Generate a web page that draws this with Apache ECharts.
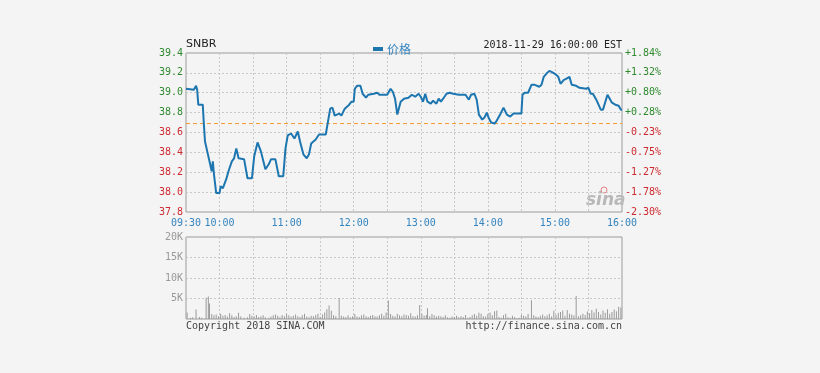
<!DOCTYPE html>
<html><head><meta charset="utf-8">
<script src="https://cdn.jsdelivr.net/npm/echarts@6/dist/echarts.min.js"></script>
<style>html,body{margin:0;padding:0;background:#f4f4f4}#c{width:820px;height:373px}</style>
</head><body><div id="c"></div>
<script>
// minutes after 09:30
var priceTimes = [0,7,9,10,11,15,16,17,19,21,23,24,25,27,30,31,33,36,38,41,43,45,47,52,55,59,61,64,67,71,74,76,80,83,87,89,91,94,97,100,102,105,108,110,112,116,119,125,127,129,131,133,137,139,142,146,148,150,151,153,156,158,161,163,168,171,173,180,183,185,187,189,192,195,196,199,202,205,208,210,212,214,216,219,221,224,226,228,230,233,236,239,244,250,253,255,258,260,262,265,267,269,271,273,276,278,281,284,287,290,293,300,301,303,306,309,312,316,318,320,323,325,327,330,333,335,338,340,343,345,349,352,358,360,362,364,367,369,371,373,377,378,381,384,387,389,390];
var prices = [39.04,39.03,39.07,39.03,38.88,38.88,38.68,38.51,38.41,38.31,38.21,38.31,38.18,37.99,37.99,38.06,38.04,38.13,38.21,38.31,38.34,38.44,38.34,38.33,38.14,38.14,38.36,38.50,38.41,38.23,38.28,38.33,38.33,38.16,38.16,38.44,38.57,38.59,38.54,38.61,38.51,38.38,38.34,38.38,38.49,38.53,38.58,38.58,38.71,38.84,38.85,38.77,38.79,38.77,38.84,38.88,38.91,38.91,39.04,39.07,39.07,38.99,38.95,38.98,38.99,39.00,38.98,38.98,39.04,39.01,38.94,38.78,38.91,38.94,38.92,38.95,38.98,38.96,38.99,38.96,38.91,38.99,38.91,38.89,38.92,38.89,38.94,38.91,38.94,38.99,39.00,38.99,38.98,38.98,38.93,38.98,38.99,38.93,38.78,38.73,38.75,38.80,38.74,38.70,38.69,38.72,38.78,38.85,38.78,38.76,38.79,38.79,38.98,39.00,39.00,39.08,39.08,39.06,39.08,39.16,39.20,39.22,39.21,39.19,39.16,39.09,39.13,39.14,39.16,39.08,39.07,39.05,39.04,39.05,38.99,38.99,38.93,38.88,38.83,38.83,38.98,38.96,38.90,38.88,38.87,38.83,38.83];
var prevClose = 38.69;
var sessionEnds = [0, 390];
var volTimes = [1,4,6,9,12,14,18,20,21,23,25,27,29,31,33,35,37,39,41,43,45,47,49,52,55,57,59,61,63,65,67,69,71,74,76,78,80,82,84,86,88,90,92,94,96,98,100,102,104,106,108,110,112,114,116,118,120,122,124,126,128,130,132,134,137,139,141,143,145,147,149,151,153,155,157,159,161,163,165,167,169,171,173,175,177,179,181,183,185,187,189,191,193,195,197,199,201,203,205,207,209,211,213,215,216,218,220,222,224,226,228,230,232,234,236,238,240,242,244,246,248,250,252,254,256,258,260,262,264,266,268,270,272,274,276,278,280,282,284,286,288,290,292,294,296,298,300,302,304,306,309,311,313,315,317,319,321,323,325,327,329,331,333,335,337,339,341,343,345,347,349,351,353,355,357,359,361,363,365,367,369,371,373,375,377,379,381,383,385,387,389];
var volumes = [1600,300,400,2300,500,300,5200,5500,3800,1200,900,1100,700,1300,800,1000,600,1400,900,500,700,1500,600,300,400,1200,800,600,1000,500,700,900,400,300,600,900,1100,800,500,1000,700,1200,900,600,800,1100,700,500,900,1300,600,400,800,700,1000,1300,500,1100,1600,2400,3300,2000,900,700,5100,800,600,500,900,400,700,1200,600,500,900,1100,700,500,800,1000,700,600,900,1300,800,1600,4500,1200,800,600,1300,900,700,1100,1000,800,1400,700,600,900,3400,1200,800,1000,2600,700,1200,900,600,800,700,500,900,400,300,600,500,800,400,700,500,1000,300,500,900,1200,800,1500,1300,700,600,1200,1600,900,1900,2100,500,300,900,1300,400,300,800,500,200,300,1000,800,600,1200,4600,900,600,500,800,1100,700,900,1300,600,2000,1000,1500,1700,2100,800,2200,1300,1100,900,5600,700,900,1300,1000,1800,1400,2200,1600,2500,1700,1100,2100,1500,2400,1300,1700,2300,1900,3000,2800];
var timeTicks = ['09:30','10:00','','11:00','','12:00','','13:00','','14:00','','15:00','','16:00'];
var priceTicks = ['37.8','38.0','38.2','38.4','38.6','38.8','39.0','39.2','39.4'];
var pctTicks = ['-2.30%','-1.78%','-1.27%','-0.75%','-0.23%','+0.28%','+0.80%','+1.32%','+1.84%'];
var volTicks = ['','5K','10K','15K','20K'];

var FONT = 'DejaVu Sans Mono';
var GREEN = '#2f8a2f', RED = '#cc2a30', BLUE = '#3384bf', GRID = '#c8c8c8';

var priceData = priceTimes.map(function (t, i) { return [t, prices[i]]; });
var volData = volTimes.map(function (t, i) { return [t, volumes[i]]; });
var closeData = sessionEnds.map(function (t) { return [t, prevClose]; });

var chart = echarts.init(document.getElementById('c'), null, {renderer: 'canvas'});
var splitLine = {show: true, lineStyle: {color: GRID, type: [2, 2], width: 1}};
chart.setOption({
  backgroundColor: '#f4f4f4',
  animation: false,
  grid: [
    {left: 186, top: 53, width: 436, height: 159, show: true, borderColor: '#9a9a9a', borderWidth: 1, backgroundColor: 'transparent'},
    {left: 186, top: 237, width: 436, height: 82, show: true, borderColor: '#9a9a9a', borderWidth: 1, backgroundColor: 'transparent'}
  ],
  legend: {
    data: ['价格'], left: 368, top: 38, icon: 'rect', itemWidth: 10, itemHeight: 4, itemGap: 4,
    textStyle: {color: BLUE, fontSize: 12, fontFamily: 'Noto Sans CJK SC', padding: [0, 0, 0, -1]}
  },
  xAxis: [
    {type: 'value', gridIndex: 0, min: 0, max: 390, interval: 30,
     axisLine: {show: false}, axisTick: {show: false}, splitLine: splitLine,
     axisLabel: {color: BLUE, fontFamily: FONT, fontSize: 10, margin: 6, showMinLabel: true, showMaxLabel: true,
       formatter: function (v) { return timeTicks[Math.round(v / 30)]; }}},
    {type: 'value', gridIndex: 1, min: 0, max: 390, interval: 30,
     axisLine: {show: false}, axisTick: {show: false}, splitLine: splitLine, axisLabel: {show: false}}
  ],
  yAxis: [
    {type: 'value', gridIndex: 0, min: 37.8, max: 39.4, interval: 0.2,
     axisLine: {show: false}, axisTick: {show: false}, splitLine: splitLine,
     axisLabel: {fontFamily: FONT, fontSize: 10, margin: 3,
       formatter: function (v) { return priceTicks[Math.round((v - 37.8) / 0.2)]; },
       color: function (v) { return parseFloat(v) >= prevClose ? GREEN : RED; }}},
    {type: 'value', gridIndex: 0, min: 37.8, max: 39.4, interval: 0.2, position: 'right',
     axisLine: {show: false}, axisTick: {show: false}, splitLine: {show: false},
     axisLabel: {fontFamily: FONT, fontSize: 10, margin: 3,
       formatter: function (v) { return pctTicks[Math.round((v - 37.8) / 0.2)]; },
       color: function (v) { return parseFloat(v) >= prevClose ? GREEN : RED; }}},
    {type: 'value', gridIndex: 1, min: 0, max: 20000, interval: 5000,
     axisLine: {show: false}, axisTick: {show: false}, splitLine: splitLine,
     axisLabel: {color: '#999', fontFamily: FONT, fontSize: 10, margin: 3,
       formatter: function (v) { return volTicks[Math.round(v / 5000)]; }}}
  ],
  series: [
    {name: 'prev', type: 'line', xAxisIndex: 0, yAxisIndex: 0, data: closeData, silent: true,
     showSymbol: false, lineStyle: {color: '#f39a30', type: [4, 3], width: 1}, z: 1},
    {name: '价格', type: 'line', xAxisIndex: 0, yAxisIndex: 0, data: priceData, z: 3,
     showSymbol: false, lineStyle: {color: '#1d76b0', width: 2}, itemStyle: {color: '#1d76b0'}},
    {name: 'vol', type: 'bar', xAxisIndex: 1, yAxisIndex: 2, data: volData,
     barWidth: 1, itemStyle: {color: '#9a9a9a'}}
  ],
  graphic: [
    {type: 'text', left: 186, top: 39, style: {text: 'SNBR', fill: '#222', font: '11px "DejaVu Sans"'}},
    {type: 'text', right: 198, top: 40, style: {text: '2018-11-29 16:00:00 EST', fill: '#222', font: '10px "DejaVu Sans Mono"'}},
    {type: 'text', left: 186, top: 321, style: {text: 'Copyright 2018 SINA.COM', fill: '#444', font: '10px "DejaVu Sans Mono"'}},
    {type: 'text', right: 198, top: 321, style: {text: 'http://finance.sina.com.cn', fill: '#444', font: '10px "DejaVu Sans Mono"'}},
    {type: 'text', left: 586, top: 192, style: {text: 'sina', fill: '#b8b8b8', font: 'italic bold 17px "DejaVu Sans"'}},
    {type: 'circle', shape: {cx: 604, cy: 190, r: 3}, style: {fill: 'none', stroke: '#e08080', lineWidth: 1}}
  ]
});
</script></body></html>
